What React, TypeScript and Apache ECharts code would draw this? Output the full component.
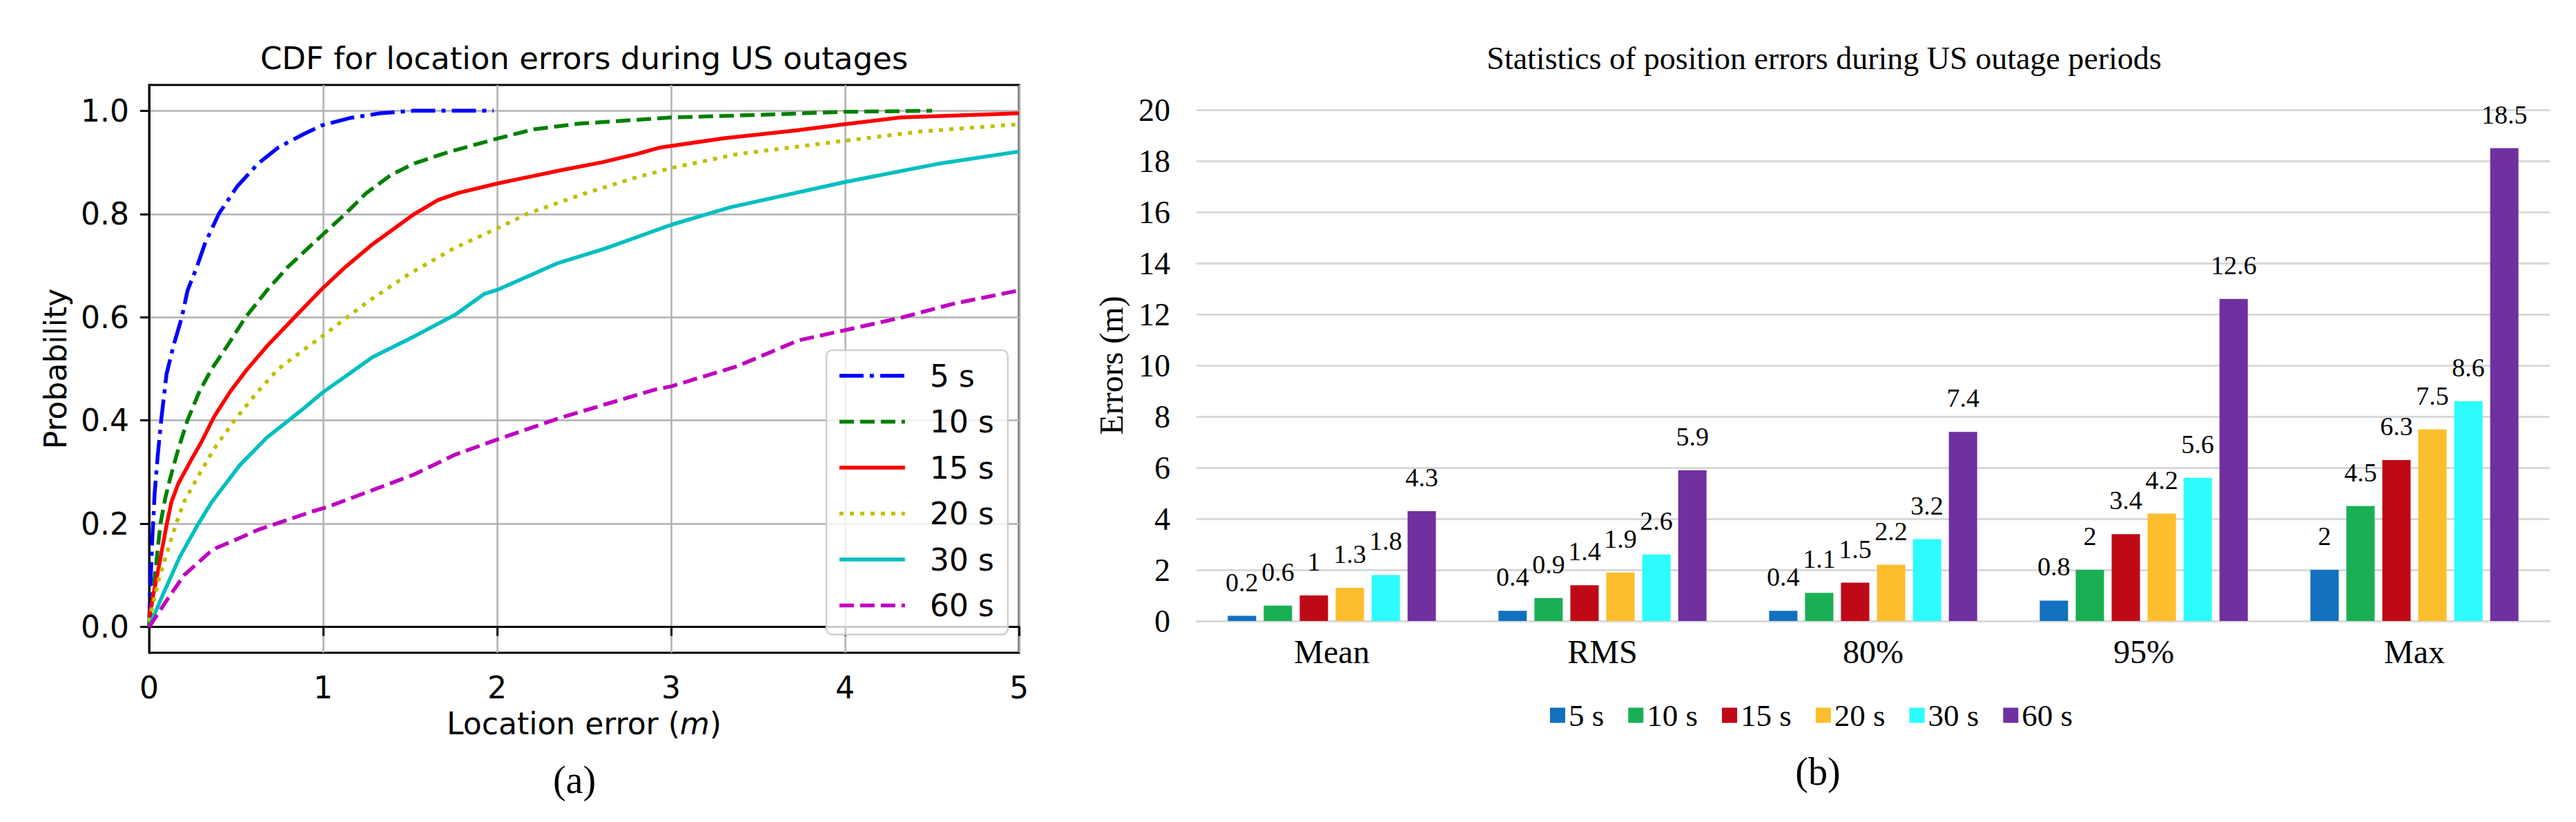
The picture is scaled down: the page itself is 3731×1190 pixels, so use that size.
import React, { useEffect, useRef } from 'react';
import * as echarts from 'echarts';

// ---------- Data: (a) CDF curves ----------
const cdfNames = ['5 s', '10 s', '15 s', '20 s', '30 s', '60 s'];
const cdf5 = [[0, 0], [0.005, 0.06], [0.018, 0.17], [0.032, 0.26], [0.049, 0.33], [0.069, 0.4], [0.1, 0.49], [0.14, 0.545], [0.188, 0.6], [0.221, 0.652], [0.274, 0.697], [0.32, 0.742], [0.4, 0.8], [0.505, 0.853], [0.624, 0.897], [0.743, 0.929], [0.889, 0.955], [0.995, 0.972], [1.154, 0.986], [1.325, 0.995], [1.52, 1.0], [1.98, 1.0]];
const cdf10 = [[0, 0], [0.019, 0.055], [0.036, 0.108], [0.065, 0.2], [0.093, 0.25], [0.12, 0.287], [0.168, 0.345], [0.22, 0.4], [0.29, 0.457], [0.36, 0.5], [0.45, 0.545], [0.552, 0.599], [0.677, 0.652], [0.796, 0.697], [0.981, 0.755], [1.127, 0.8], [1.246, 0.84], [1.392, 0.876], [1.524, 0.898], [1.72, 0.92], [2.0, 0.946], [2.21, 0.964], [2.47, 0.975], [3.0, 0.987], [3.5, 0.992], [4.0, 0.998], [4.5, 1.0]];
const cdf15 = [[0, 0.02], [0.056, 0.117], [0.1, 0.197], [0.128, 0.242], [0.168, 0.278], [0.254, 0.331], [0.3, 0.358], [0.373, 0.407], [0.466, 0.456], [0.558, 0.497], [0.68, 0.545], [0.836, 0.6], [1.0, 0.657], [1.127, 0.697], [1.286, 0.742], [1.524, 0.8], [1.66, 0.827], [1.78, 0.841], [2.0, 0.859], [2.37, 0.885], [2.6, 0.9], [2.8, 0.916], [2.94, 0.929], [3.31, 0.947], [3.72, 0.962], [4.0, 0.974], [4.32, 0.987], [5.0, 0.995]];
const cdf20 = [[0, 0.01], [0.013, 0.032], [0.062, 0.1], [0.155, 0.2], [0.2, 0.242], [0.287, 0.295], [0.373, 0.345], [0.49, 0.4], [0.624, 0.456], [0.743, 0.5], [0.9, 0.54], [0.995, 0.563], [1.134, 0.599], [1.273, 0.634], [1.5, 0.685], [1.76, 0.735], [2.0, 0.772], [2.17, 0.8], [2.47, 0.836], [2.77, 0.868], [3.0, 0.889], [3.38, 0.916], [4.0, 0.942], [4.44, 0.96], [5.0, 0.974]];
const cdf30 = [[0, 0], [0.069, 0.055], [0.175, 0.135], [0.283, 0.2], [0.36, 0.242], [0.52, 0.313], [0.677, 0.367], [0.876, 0.42], [1.0, 0.455], [1.286, 0.523], [1.524, 0.563], [1.76, 0.605], [1.925, 0.645], [2.0, 0.653], [2.35, 0.705], [2.62, 0.733], [3.0, 0.779], [3.34, 0.813], [4.0, 0.862], [4.53, 0.897], [5.0, 0.921]];
const cdf60 = [[0, 0], [0.108, 0.055], [0.2, 0.1], [0.346, 0.144], [0.386, 0.153], [0.505, 0.17], [0.624, 0.188], [0.783, 0.206], [0.94, 0.224], [1.03, 0.233], [1.52, 0.295], [1.76, 0.334], [2.0, 0.363], [2.37, 0.406], [2.91, 0.46], [3.0, 0.466], [3.38, 0.505], [3.73, 0.555], [4.0, 0.575], [4.32, 0.599], [4.62, 0.626], [5.0, 0.652]];
const cdfSeries = [cdf5, cdf10, cdf15, cdf20, cdf30, cdf60];
const probTicks = [0, 0.2, 0.4, 0.6, 0.8, 1.0];

// ---------- Data: (b) statistics bars ----------
const statCategories = ['Mean', 'RMS', '80%', '95%', 'Max'];
const bar5 = [0.2, 0.4, 0.4, 0.8, 2];
const bar10 = [0.6, 0.9, 1.1, 2, 4.5];
const bar15 = [1, 1.4, 1.5, 3.4, 6.3];
const bar20 = [1.3, 1.9, 2.2, 4.2, 7.5];
const bar30 = [1.8, 2.6, 3.2, 5.6, 8.6];
const bar60 = [4.3, 5.9, 7.4, 12.6, 18.5];
const barSeries = [bar5, bar10, bar15, bar20, bar30, bar60];

// ---------- Styles ----------
const lineColors = ['#0000ff', '#008000', '#ff0000', '#bfbf00', '#00bfbf', '#bf00bf'];
const lineTypes: any[] = [[35, 9, 6, 9], [21, 9], 'solid', [6, 9], 'solid', [21, 9]];
const barColors = ['#1270bf', '#1aaf54', '#c00916', '#fcbe2d', '#2cfcfc', '#7030a0'];
const SANS = 'DejaVu Sans';
const SERIF = 'Liberation Serif';
const BAR_PREFIX = 'bar-';
const LW = 5.5;

function buildOption() {
  const lineSeries = cdfSeries.map((d, i) => ({
    name: cdfNames[i],
    type: 'line',
    xAxisIndex: 0,
    yAxisIndex: 0,
    data: d,
    symbol: 'none',
    showSymbol: false,
    smooth: false,
    lineStyle: { color: lineColors[i], width: LW, type: lineTypes[i], cap: 'butt' },
    itemStyle: { color: lineColors[i] },
    z: 3,
  }));
  const bars = barSeries.map((d, i) => ({
    name: BAR_PREFIX + cdfNames[i],
    type: 'bar',
    xAxisIndex: 1,
    yAxisIndex: 1,
    data: d,
    barWidth: 41,
    barGap: '27%',
    itemStyle: { color: barColors[i] },
    label: {
      show: true,
      position: 'top',
      distance: 30,
      fontFamily: SERIF,
      fontSize: 38,
      color: '#000',
    },
  }));

  const txt = (text: string, x: number, y: number, font: string) => ({
    type: 'text',
    x,
    y,
    style: {
      text,
      font,
      fill: '#000',
      textAlign: 'center',
      textVerticalAlign: 'middle',
      align: 'center',
      verticalAlign: 'middle',
    },
  });

  return {
    animation: false,
    backgroundColor: '#ffffff',
    graphic: [
      txt('CDF for location errors during US outages', 846, 84, `45px "${SANS}"`),
      txt('Statistics of position errors during US outage periods', 2642, 84, `46px "${SERIF}"`),
      txt('(a)', 832, 1129, `56px "${SERIF}"`),
      txt('(b)', 2633, 1117, `56px "${SERIF}"`),
    ],
    grid: [
      { left: 216, top: 123, width: 1260, height: 822, show: true, borderColor: '#000', borderWidth: 3, backgroundColor: 'transparent' },
      { left: 1733, top: 159, width: 1960, height: 740 },
    ],
    xAxis: [
      {
        type: 'value',
        gridIndex: 0,
        min: 0,
        max: 5,
        interval: 1,
        name: 'Location error ({i|m})',
        nameLocation: 'middle',
        nameGap: 80,
        nameTextStyle: {
          fontFamily: SANS, fontSize: 44, color: '#000',
          rich: { i: { fontFamily: SANS, fontSize: 44, fontStyle: 'italic', color: '#000' } },
        },
        axisLine: { show: true, lineStyle: { color: '#000', width: 3 } },
        axisTick: { show: true, inside: false, length: 13, lineStyle: { color: '#000', width: 3 } },
        axisLabel: { fontFamily: SANS, fontSize: 44, color: '#000', margin: 28 },
        splitLine: { show: true, lineStyle: { color: '#b0b0b0', width: 2.5 } },
      },
      {
        type: 'category',
        gridIndex: 1,
        data: statCategories,
        axisLine: { show: true, lineStyle: { color: '#d9d9d9', width: 3 } },
        axisTick: { show: false },
        axisLabel: { fontFamily: SERIF, fontSize: 48, color: '#000', margin: 20 },
        splitLine: { show: false },
      },
    ],
    yAxis: [
      {
        type: 'value',
        gridIndex: 0,
        min: -0.05,
        max: 1.05,
        splitNumber: 5,
        name: 'Probability',
        nameLocation: 'middle',
        nameGap: 114,
        nameTextStyle: { fontFamily: SANS, fontSize: 44, color: '#000' },
        axisLine: { show: true, lineStyle: { color: '#000', width: 3 } },
        axisTick: { show: true, inside: false, length: 13, customValues: probTicks, lineStyle: { color: '#000', width: 3 } },
        axisLabel: {
          customValues: probTicks,
          fontFamily: SANS, fontSize: 44, color: '#000', margin: 29,
          formatter: (v: number) => v.toFixed(1),
        },
        splitLine: { show: true, lineStyle: { color: '#b0b0b0', width: 2.5 } },
      },
      {
        type: 'value',
        gridIndex: 1,
        min: 0,
        max: 20,
        interval: 2,
        name: 'Errors (m)',
        nameLocation: 'middle',
        nameGap: 100,
        nameTextStyle: { fontFamily: SERIF, fontSize: 48, color: '#000' },
        axisLine: { show: false },
        axisTick: { show: false },
        axisLabel: { fontFamily: SERIF, fontSize: 46, color: '#000', margin: 38 },
        splitLine: { show: true, lineStyle: { color: '#d9d9d9', width: 3 } },
      },
    ],
    legend: [
      {
        data: cdfNames,
        orient: 'vertical',
        left: 1197,
        top: 507,
        itemWidth: 95,
        itemHeight: 44,
        itemGap: 22.5,
        padding: [15, 20, 20, 16],
        backgroundColor: 'rgba(255,255,255,0.8)',
        borderColor: '#d0d0d0',
        borderWidth: 2.5,
        borderRadius: 8,
        selectedMode: false,
        itemStyle: { opacity: 0, borderWidth: 0 },
        lineStyle: { width: LW },
        textStyle: { fontFamily: SANS, fontSize: 44, color: '#000', padding: [0, 0, 0, 31] },
      },
      {
        data: cdfNames.map((n) => BAR_PREFIX + n),
        orient: 'horizontal',
        left: 2240,
        top: 1008,
        icon: 'rect',
        itemWidth: 22,
        itemHeight: 22,
        itemGap: 35,
        selectedMode: false,
        formatter: (n: string) => n.replace(BAR_PREFIX, ''),
        textStyle: { fontFamily: SERIF, fontSize: 45, color: '#000' },
      },
    ],
    series: [...lineSeries, ...bars],
  };
}

export default function App() {
  const ref = useRef<HTMLDivElement>(null);
  useEffect(() => {
    if (!ref.current) return;
    const chart = echarts.init(ref.current, null, { renderer: 'svg' });
    chart.setOption(buildOption() as any);
    return () => chart.dispose();
  }, []);
  return (
    <div
      ref={ref}
      style={{ position: 'absolute', left: 0, top: 0, width: 3731, height: 1190, background: '#fff' }}
    />
  );
}
